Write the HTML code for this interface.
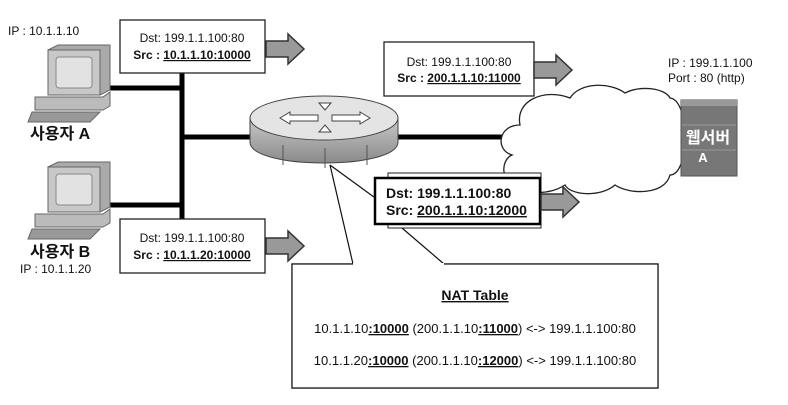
<!DOCTYPE html>
<html><head><meta charset="utf-8"><style>
body{margin:0;background:#fff}
svg text{font-family:"Liberation Sans","Noto Sans CJK KR",sans-serif;fill:#111}
</style></head><body>
<svg width="788" height="400" viewBox="0 0 788 400" xmlns="http://www.w3.org/2000/svg">
<defs>
<linearGradient id="g" x1="0" y1="0" x2="0" y2="1"><stop offset="0" stop-color="#c8c8c8"/><stop offset="1" stop-color="#8a8a8a"/></linearGradient>
<g id="arrow"><path d="M0,7 H22 V0 L38,15 L22,30 V23 H0 Z" fill="#999" stroke="#333" stroke-width="1.5"/></g>
<g id="pc">
<path d="M48,50 L58,45 L110,45 L110,90 L100,95 Z" fill="#aaa" stroke="#666"/>
<rect x="48" y="50" width="52" height="45" fill="#c8c8c8" stroke="#666"/>
<rect x="56" y="57" width="36" height="31" rx="3" fill="#e2e2e2" stroke="#888"/>
<path d="M35,97 H103 L110,92 V106 L103,110 H35 Z" fill="#bbb" stroke="#666"/>
<path d="M32,112 H100 L90,122 H28 Z" fill="#999" stroke="#666"/>
</g>
</defs>
<g stroke="#000" stroke-width="5">
<line x1="182" y1="73" x2="182" y2="219"/>
<line x1="108" y1="88" x2="182" y2="88"/>
<line x1="108" y1="205" x2="182" y2="205"/>
<line x1="182" y1="137" x2="255" y2="137"/>
<line x1="395" y1="137" x2="510" y2="137"/>
</g>
<use href="#pc" x="0" y="0"/>
<use href="#pc" x="0" y="117"/>
<text x="8" y="35" font-size="12">IP : 10.1.1.10</text>
<text x="30" y="139" font-size="16" font-weight="bold">사용자 A</text>
<text x="30" y="257" font-size="16" font-weight="bold">사용자 B</text>
<text x="20" y="273" font-size="12">IP : 10.1.1.20</text>
<rect x="120" y="20" width="145" height="53" fill="#fff" stroke="#222" stroke-width="1.3"/>
<text x="192" y="42" font-size="12" text-anchor="middle">Dst: 199.1.1.100:80</text>
<text x="192" y="59" font-size="12" text-anchor="middle" font-weight="bold">Src : <tspan text-decoration="underline">10.1.1.10:10000</tspan></text>
<use href="#arrow" x="266" y="34"/>
<rect x="120" y="219" width="145" height="54" fill="#fff" stroke="#222" stroke-width="1.3"/>
<text x="192" y="242" font-size="12" text-anchor="middle">Dst: 199.1.1.100:80</text>
<text x="192" y="259" font-size="12" text-anchor="middle" font-weight="bold">Src : <tspan text-decoration="underline">10.1.1.20:10000</tspan></text>
<use href="#arrow" x="266" y="231"/>
<rect x="384" y="42" width="150" height="54" fill="#fff" stroke="#222" stroke-width="1.3"/>
<text x="459" y="66" font-size="12" text-anchor="middle">Dst: 199.1.1.100:80</text>
<text x="459" y="82" font-size="12" text-anchor="middle" font-weight="bold">Src : <tspan text-decoration="underline">200.1.1.10:11000</tspan></text>
<use href="#arrow" x="534" y="55"/>
<path d="M520,185 C500,185 500,160 512,155 C495,150 498,125 520,125 C515,100 545,88 570,98 C580,82 610,82 625,93 C640,85 665,88 670,98 C690,100 690,175 670,175 C665,195 630,195 615,185 C600,198 570,195 565,185 C550,195 525,195 520,185 Z" fill="#fff" stroke="#222" stroke-width="1.3"/>
<rect x="681" y="100" width="56" height="76" fill="#777" stroke="#555"/>
<rect x="681" y="100" width="56" height="6" fill="#999"/>
<g stroke="#999"><line x1="682" y1="125" x2="736" y2="125"/><line x1="682" y1="150" x2="736" y2="150"/></g>
<text x="708" y="143" font-size="16" font-weight="bold" text-anchor="middle" style="fill:#fff">웹서버</text>
<text x="703" y="162" font-size="13" font-weight="bold" text-anchor="middle" style="fill:#fff">A</text>
<text x="668" y="67" font-size="12">IP : 199.1.1.100</text>
<text x="668" y="82" font-size="12">Port : 80 (http)</text>
<path d="M250,118 V142 C250,170 398,170 398,142 V118 Z" fill="url(#g)" stroke="#444"/>
<g stroke="#555"><line x1="283" y1="145" x2="283" y2="165"/><line x1="325" y1="148" x2="325" y2="168"/><line x1="367" y1="145" x2="367" y2="165"/></g>
<ellipse cx="324" cy="118" rx="74" ry="22" fill="#e4e4e4" stroke="#444"/>
<path d="M280,118 L290,112 V115 H318 V121 H290 V124 Z M370,118 L360,112 V115 H332 V121 H360 V124 Z M325,125 L319,132 H331 Z M325,110 L319,103 H331 Z" fill="#fff" stroke="#444"/>
<g stroke="#111" stroke-width="1.2" fill="none">
<polyline points="330,165 353,264 292,264 292,388 658,388 658,264 444,264 402,228"/>
<line x1="330" y1="165" x2="378" y2="200"/>
</g>
<rect x="292" y="264" width="366" height="124" fill="#fff" stroke="#111" stroke-width="1.2"/>
<line x1="353" y1="264" x2="444" y2="264" stroke="#fff" stroke-width="2"/>
<rect x="388" y="173" width="153" height="55" fill="#fff" stroke="#222"/>
<rect x="375" y="178" width="165" height="46" fill="#fff" stroke="#000" stroke-width="2.5"/>
<text x="386" y="198" font-size="14" font-weight="bold">Dst: 199.1.1.100:80</text>
<text x="386" y="215" font-size="14" font-weight="bold">Src: <tspan text-decoration="underline">200.1.1.10:12000</tspan></text>
<use href="#arrow" x="541" y="187"/>
<text x="475" y="300" font-size="14" font-weight="bold" text-anchor="middle" text-decoration="underline">NAT Table</text>
<text x="475" y="333" font-size="13" text-anchor="middle">10.1.1.10<tspan font-weight="bold" text-decoration="underline">:10000</tspan> (200.1.1.10<tspan font-weight="bold" text-decoration="underline">:11000</tspan>) &lt;-&gt; 199.1.1.100:80</text>
<text x="475" y="365" font-size="13" text-anchor="middle">10.1.1.20<tspan font-weight="bold" text-decoration="underline">:10000</tspan> (200.1.1.10<tspan font-weight="bold" text-decoration="underline">:12000</tspan>) &lt;-&gt; 199.1.1.100:80</text>
</svg>
</body></html>
